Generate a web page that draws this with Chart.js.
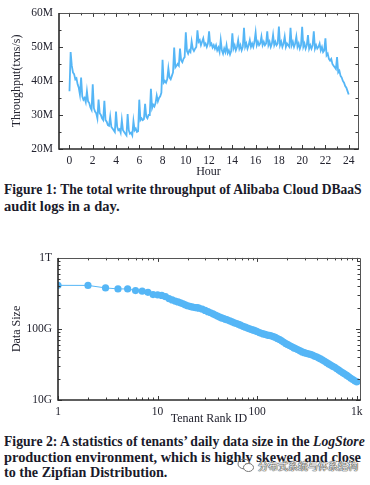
<!DOCTYPE html>
<html><head><meta charset="utf-8">
<script src="https://cdn.jsdelivr.net/npm/chart.js@4.4.0/dist/chart.umd.min.js"></script>
<style>
html,body{margin:0;padding:0;background:#fff;width:370px;height:485px;overflow:hidden;position:relative;}
canvas{position:absolute;left:0;}
#c1{top:0;}
#c2{top:245px;}
.cap{position:absolute;left:4px;font-family:"Liberation Serif","Times New Roman",serif;font-weight:bold;font-size:15px;color:#1a1a2a;white-space:nowrap;transform-origin:0 50%;line-height:16px;height:16px;}
.wm{position:absolute;left:258px;top:459px;font-family:"Noto Sans CJK SC",sans-serif;font-size:10px;line-height:14px;color:#f0f0f0;white-space:nowrap;text-shadow:0 0 1px #333,0 0 1px #333,0 0 1px #333;}
.wmicon{position:absolute;left:237px;top:458px;}
</style></head>
<body>
<canvas id="c1" width="370" height="180"></canvas>
<canvas id="c2" width="370" height="182"></canvas>
<div class="cap" data-w="358" style="top:181px">Figure 1: The total write throughput of Alibaba Cloud DBaaS</div>
<div class="cap" data-w="116" style="top:198px">audit logs in a day.</div>
<div class="cap" data-w="361" style="top:433px">Figure 2: A statistics of tenants’ daily data size in the <i>LogStore</i></div>
<div class="cap" data-w="357" style="top:449px">production environment, which is highly skewed and close</div>
<div class="cap" data-w="163" style="top:464px">to the Zipfian Distribution.</div>
<svg class="wmicon" width="18" height="15" viewBox="0 0 18 15"><ellipse cx="7" cy="6" rx="6" ry="4.8" fill="none" stroke="#777" stroke-width="1"/><ellipse cx="11.5" cy="9.5" rx="5" ry="4" fill="#fff" stroke="#777" stroke-width="1"/></svg>
<div class="wm">分布式系统与体系结构</div>
<script>
// ---------- Figure 1 data ----------
const sampleStepHours = 0.1;
const throughputM = [
37.0,48.5,44.5,42.5,42.0,40.5,40.8,39.0,38.0,36.0,
41.0,35.5,34.5,35.0,33.8,37.0,34.0,33.5,32.2,31.5,
39.0,32.0,31.0,30.5,29.0,34.5,30.5,30.0,29.0,28.5,
34.2,28.5,28.0,27.0,26.8,29.5,26.5,26.0,25.5,25.0,
31.0,26.5,25.5,25.8,24.8,28.5,25.5,25.0,24.5,24.0,
30.3,25.5,24.5,24.8,24.0,28.2,25.5,26.0,25.0,25.2,
34.5,28.5,29.0,28.5,28.8,33.3,29.5,29.0,30.0,30.0,
37.7,32.0,33.0,32.5,33.5,35.7,34.0,35.0,35.5,36.5,
46.2,39.5,40.0,39.5,40.5,43.7,41.0,40.5,41.5,42.5,
49.8,44.0,44.5,45.0,44.5,49.5,46.0,45.5,46.5,47.0,
54.3,48.8,48.0,49.0,48.5,51.6,49.5,48.8,49.5,50.0,
54.9,51.5,52.0,50.5,51.5,52.5,50.5,51.0,50.0,51.0,
54.6,50.5,51.0,49.8,50.5,49.5,50.5,49.0,49.8,48.5,
52.0,49.0,48.0,49.5,48.5,50.5,48.2,49.0,47.8,48.8,
54.0,49.5,50.5,49.0,50.0,52.0,49.5,50.5,49.0,50.0,
55.6,50.0,51.0,49.5,50.5,52.0,50.0,51.0,50.0,51.5,
54.2,50.5,51.5,50.5,51.0,53.0,50.5,51.5,50.5,51.0,
54.6,50.5,51.5,50.0,51.0,53.5,50.5,51.5,50.5,51.0,
56.0,50.5,51.5,50.0,51.0,53.0,50.0,51.0,50.5,50.0,
55.6,50.5,51.5,50.0,51.0,53.0,50.0,51.0,49.5,50.5,
55.9,50.0,51.0,49.5,50.5,53.5,49.5,50.5,49.5,50.5,
54.6,49.5,50.5,49.5,50.0,51.0,49.0,50.0,48.5,49.0,
52.5,47.5,48.0,46.5,46.0,46.5,45.0,44.5,44.0,43.5,
47.0,42.5,43.0,41.5,41.0,40.0,39.5,38.5,38.0,37.0,
36.0];
const hourTicks = [0,2,4,6,8,10,12,14,16,18,20,22,24];
const hourMinorTicks = [1,3,5,7,9,11,13,15,17,19,21,23];
const throughputTicks = [20,30,40,50,60];
const throughputTickLabels = ['20M','30M','40M','50M','60M'];
const throughputMinorTicks = [25,35,45,55];

// ---------- Figure 2 data ----------
const tenantRank = [1,2,3,4,5,6,7,8,9,10,11,12,13,14,15,16,17,18,19,20,21,22,23,24,25,26,28,30,32,34,36,38,40,42,44,46,48,50,53,56,59,62,65,68,72,76,80,84,88,92,96,100,105,110,115,120,126,132,138,145,152,160,168,176,185,194,203,213,223,234,245,257,270,283,297,311,326,342,358,375,393,412,432,453,475,498,522,547,573,600,629,659,690,723,757,793,830,870,911,954,1000];
const dataSizeG = [411,410,378,366,366,347,340,328,305,302,296,285,268,256,247,240,233,226,218,212,208,204,202,200,199,196,190,182,175,169,163,157,152,147,143,140,137,134,130,126,122,119,116,113,109,106,103,100,98,96,94,92,89,87,85,84,82,81,80,78,76,73,71,68,65,62,60,58,56,54,52.5,51,49,47.5,46.3,45.5,44.5,43.8,43,41.5,40.5,39.2,37.8,36.5,35,33.5,32.2,31,29.8,28.8,27.5,26.4,25.2,24.2,23.2,22.2,21.2,20.2,19.4,18.6,18.0];
const rankTicks = [1,10,100,1000];
const rankTickLabels = ['1','10','100','1k'];
const rankMinorTicks = [2,3,4,5,6,7,8,9,20,30,40,50,60,70,80,90,200,300,400,500,600,700,800,900];
const sizeTicks = [10,100,1000];
const sizeTickLabels = ['10G','100G','1T'];
const sizeMinorTicks = [20,30,40,50,60,70,80,90,200,300,400,500,600,700,800,900];

const BLUE = '#55b6f6';
const TXT = '#23232f';
const SERIF = '"Liberation Serif","Times New Roman",serif';

function framePlugin(xMajor, xMinor, yMajor, yMinor){
  return {
    id:'frameTicks',
    afterDraw(chart){
      const {ctx, chartArea:a, scales:{x,y}} = chart;
      ctx.save();
      ctx.strokeStyle = '#3a3a3a';
      ctx.lineWidth = 1;
      const tx = (vals,len)=>vals.forEach(v=>{
        const p = Math.round(x.getPixelForValue(v))+0.5;
        ctx.beginPath();
        ctx.moveTo(p,a.bottom); ctx.lineTo(p,a.bottom-len);
        ctx.moveTo(p,a.top); ctx.lineTo(p,a.top+len);
        ctx.stroke();
      });
      const ty = (vals,len)=>vals.forEach(v=>{
        const p = Math.round(y.getPixelForValue(v))+0.5;
        ctx.beginPath();
        ctx.moveTo(a.left,p); ctx.lineTo(a.left+len,p);
        ctx.moveTo(a.right,p); ctx.lineTo(a.right-len,p);
        ctx.stroke();
      });
      tx(xMajor,4); tx(xMinor,2.5); ty(yMajor,4); ty(yMinor,2.5);
      ctx.strokeStyle = '#555';
      ctx.lineWidth = 1;
      ctx.beginPath();
      ctx.moveTo(Math.round(a.left), Math.round(a.top)+0.5);
      ctx.lineTo(Math.round(a.right)+0.5, Math.round(a.top)+0.5);
      ctx.lineTo(Math.round(a.right)+0.5, Math.round(a.bottom));
      ctx.stroke();
      ctx.strokeStyle = '#2a2a2a';
      ctx.lineWidth = 1.6;
      ctx.beginPath();
      ctx.moveTo(a.left, a.top);
      ctx.lineTo(a.left, a.bottom);
      ctx.lineTo(a.right+1, a.bottom);
      ctx.stroke();
      ctx.restore();
    }
  };
}

const tickFont = {family:SERIF, size:11.5};
const titleFont = {family:SERIF, size:12};

new Chart(document.getElementById('c1'), {
  type:'line',
  data:{datasets:[{
    data: throughputM.map((v,i)=>({x:i*sampleStepHours, y:v})),
    borderColor:BLUE, borderWidth:1.8, pointRadius:0, tension:0, fill:false
  }]},
  options:{
    responsive:false, animation:false,
    layout:{padding:{top:7,right:12,left:0,bottom:0}},
    plugins:{legend:{display:false}, tooltip:{enabled:false}},
    scales:{
      x:{type:'linear', min:-0.9, max:24.8,
        grid:{display:false, drawTicks:false}, border:{display:false},
        afterBuildTicks:s=>{s.ticks = hourTicks.map(v=>({value:v}));},
        ticks:{padding:5, color:TXT, font:tickFont, maxRotation:0, autoSkip:false, callback:(v,i)=>String(hourTicks[i])},
        title:{display:true, text:'Hour', font:titleFont, color:TXT, padding:{top:0,bottom:1}},
        afterFit:s=>{s.height=31;}
      },
      y:{type:'linear', min:20, max:60,
        grid:{display:false, drawTicks:false}, border:{display:false},
        afterBuildTicks:s=>{s.ticks = throughputTicks.map(v=>({value:v}));},
        ticks:{padding:6, color:TXT, font:tickFont, autoSkip:false, callback:(v,i)=>throughputTickLabels[i]},
        title:{display:true, text:'Throughput(txns/s)', font:titleFont, color:TXT, padding:{top:10,bottom:0}},
        afterFit:s=>{s.width=59;}
      }
    }
  },
  plugins:[framePlugin(hourTicks,hourMinorTicks,throughputTicks,throughputMinorTicks)]
});

new Chart(document.getElementById('c2'), {
  type:'line',
  data:{datasets:[{
    data: tenantRank.map((r,i)=>({x:r, y:dataSizeG[i]})),
    borderColor:BLUE, borderWidth:1, pointRadius:3.6, pointBorderWidth:0,
    pointBackgroundColor:BLUE, tension:0, fill:false
  }]},
  options:{
    responsive:false, animation:false,
    layout:{padding:{top:12,right:10,left:0,bottom:0}},
    plugins:{legend:{display:false}, tooltip:{enabled:false}},
    scales:{
      x:{type:'logarithmic', min:1, max:1075,
        grid:{display:false, drawTicks:false}, border:{display:false},
        afterBuildTicks:s=>{s.ticks = rankTicks.map(v=>({value:v}));},
        ticks:{padding:5, color:TXT, font:tickFont, maxRotation:0, autoSkip:false, callback:(v,i)=>rankTickLabels[i]},
        title:{display:true, text:'Tenant Rank ID', font:titleFont, color:TXT, padding:{top:0,bottom:1}},
        afterFit:s=>{s.height=27;}
      },
      y:{type:'logarithmic', min:10, max:1000,
        grid:{display:false, drawTicks:false}, border:{display:false},
        afterBuildTicks:s=>{s.ticks = sizeTicks.map(v=>({value:v}));},
        ticks:{padding:6, color:TXT, font:tickFont, autoSkip:false, callback:(v,i)=>sizeTickLabels[i]},
        title:{display:true, text:'Data Size', font:titleFont, color:TXT, padding:{top:10,bottom:0}},
        afterFit:s=>{s.width=58;}
      }
    }
  },
  plugins:[framePlugin(rankTicks,rankMinorTicks,sizeTicks,sizeMinorTicks)]
});

document.querySelectorAll('.cap').forEach(el=>{
  const target = parseFloat(el.dataset.w);
  const w = el.scrollWidth;
  if (w>0) el.style.transform = 'scaleX(' + (target/w) + ')';
});
</script>
</body></html>
